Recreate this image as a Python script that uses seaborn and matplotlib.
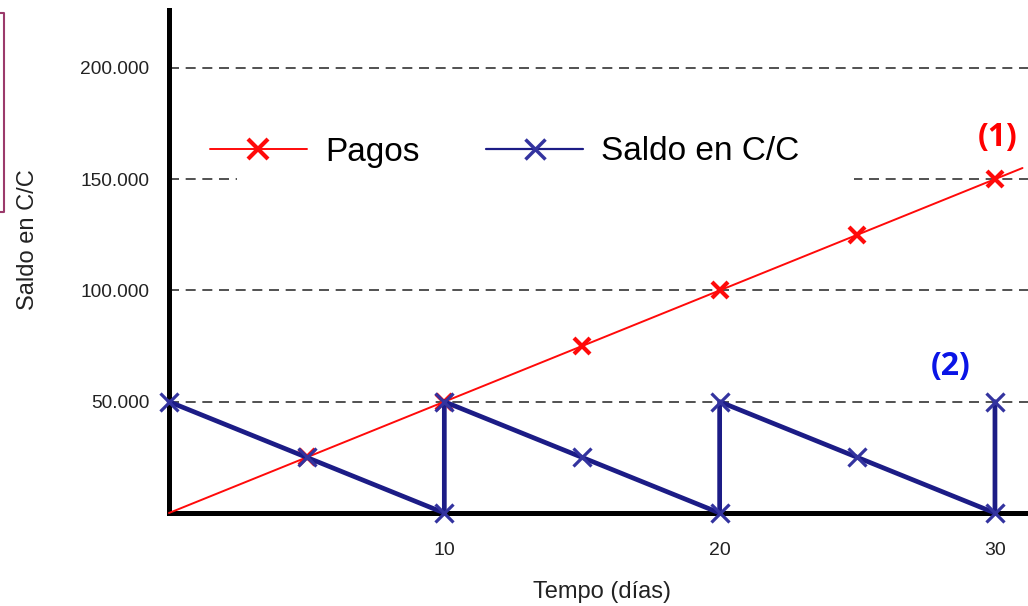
import matplotlib
matplotlib.use('Agg')
import matplotlib.pyplot as plt
import seaborn as sns
import pandas as pd
from matplotlib.lines import Line2D
from matplotlib.patches import Rectangle

# ---- data ----
dias_pagos = [0, 5, 10, 15, 20, 25, 30, 31]
pagos = [0, 25000, 50000, 75000, 100000, 125000, 150000, 155000]
dias_saldo = [0, 5, 10, 10, 15, 20, 20, 25, 30, 30]
saldo = [50000, 25000, 0, 50000, 25000, 0, 50000, 25000, 0, 50000]
y_ticks = [50000, 100000, 150000, 200000]
y_tick_labels = ['50.000', '100.000', '150.000', '200.000']
x_ticks = [10, 20, 30]
x_tick_labels = ['10', '20', '30']
series_labels = ['Pagos', 'Saldo en C/C']

sns.set_style('white')
plt.rcParams['font.family'] = ['Liberation Sans', 'DejaVu Sans']

fig = plt.figure(figsize=(10.28, 6.06), dpi=100)
ax = fig.add_axes([169/1028, 1-513/606, 859/1028, 503/606])

df_p = pd.DataFrame({'dia': dias_pagos, 'valor': pagos})
df_s = pd.DataFrame({'dia': dias_saldo, 'valor': saldo})

RED = '#ff0a0a'
NAVY = '#1c1c86'
NAVY_M = '#33339f'

sns.lineplot(data=df_p, x='dia', y='valor', ax=ax, sort=False, estimator=None,
             color=RED, lw=1.4, marker='x', markersize=12,
             markeredgewidth=3, markeredgecolor=RED,
             markevery=[1, 2, 3, 4, 5, 6], clip_on=False, zorder=3)
sns.lineplot(data=df_s, x='dia', y='valor', ax=ax, sort=False, estimator=None,
             color=NAVY, lw=3.4, marker='x', markersize=13,
             markeredgewidth=2.3, markeredgecolor=NAVY_M,
             clip_on=False, zorder=4)

ax.set_xlim(0, 31.2)
ax.set_ylim(0, 226000)

# grid
ax.set_axisbelow(True)
ax.yaxis.grid(True, linestyle=(0, (6, 4)), color='#333333', lw=1.2)
ax.xaxis.grid(False)
ax.add_patch(Rectangle((2.47, 140000), 22.4, 25000, facecolor='white',
                       edgecolor='none', zorder=1.5))

# spines
for s in ['top', 'right']:
    ax.spines[s].set_visible(False)
for s in ['left', 'bottom']:
    ax.spines[s].set_color('black')
    ax.spines[s].set_linewidth(3.6)
    ax.spines[s].set_zorder(2.5)

ax.set_yticks(y_ticks, y_tick_labels)
ax.set_xticks(x_ticks, x_tick_labels)
ax.tick_params(axis='y', length=0, pad=14, labelsize=13.8, labelcolor='#222222')
ax.tick_params(axis='x', length=0, pad=21, labelsize=14, labelcolor='#222222')

ax.set_xlabel('Tempo (días)', fontsize=17, color='#222222')
ax.xaxis.set_label_coords(0.504, -0.157)
ax.xaxis.label.set_va('center')
ax.set_ylabel('Saldo en C/C', fontsize=17, color='#222222')
ax.yaxis.set_label_coords(-0.164, 0.543)
ax.yaxis.label.set_va('center')

handles = [Line2D([], [], color=RED, lw=1.4, marker='x', ms=14, mew=3, mec=RED),
           Line2D([], [], color=NAVY, lw=1.6, marker='x', ms=14, mew=2.5, mec=NAVY_M)]
leg = ax.legend(handles, series_labels, ncol=2, loc='center left',
                bbox_to_anchor=(41/859, (513-152)/503), frameon=False, fontsize=24,
                handlelength=2.9, handletextpad=0.55, columnspacing=2.0,
                borderpad=0, borderaxespad=0)
for t in leg.get_texts():
    t.set_color('black')

ax.text(30.08, 168500, '(1)', color='#ff0000', fontsize=23, fontweight='bold',
        family=['Open Sans', 'DejaVu Sans'], ha='center', va='center')
ax.text(28.4, 66000, '(2)', color='#0a14e6', fontsize=23, fontweight='bold',
        family=['Open Sans', 'DejaVu Sans'], ha='center', va='center')

# cropped frame at top left
fig.add_artist(Line2D([0, 4/1028, 4/1028, 0],
                      [1-13/606, 1-13/606, 1-212/606, 1-212/606],
                      transform=fig.transFigure, color='#9b3a6b', lw=1.5))

fig.savefig('out.png', dpi=100)
